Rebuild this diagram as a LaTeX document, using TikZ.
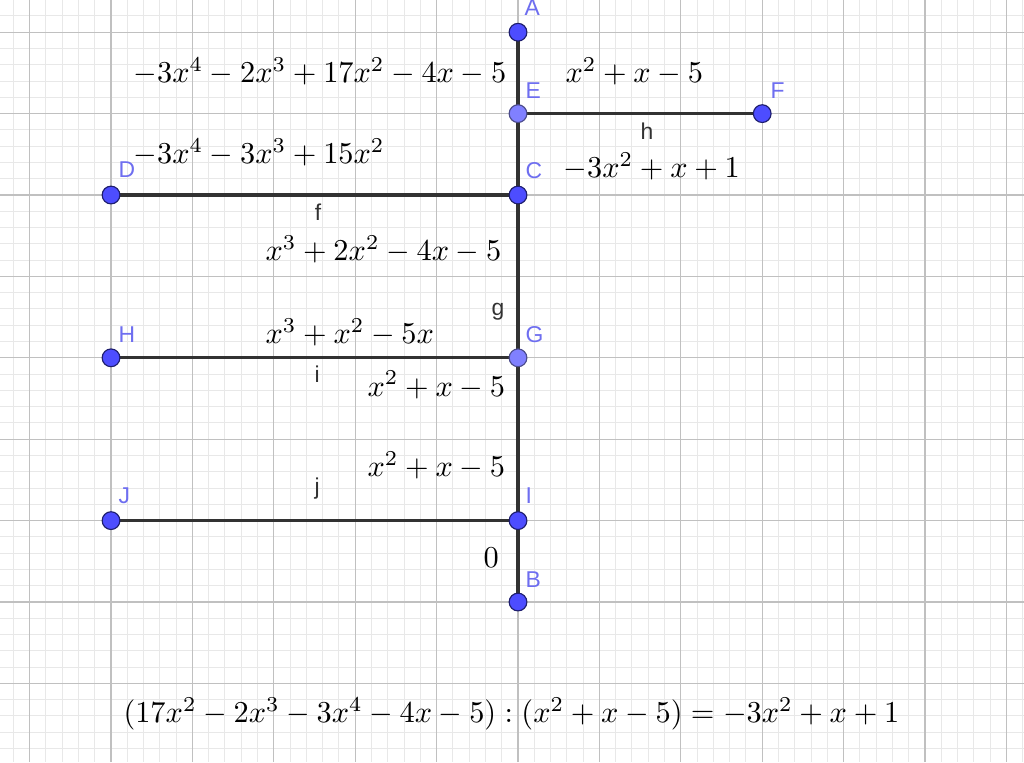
\RequirePackage{fix-cm}
\documentclass[tikz,border=0pt]{standalone}
\usepackage{fontspec}
\newfontfamily\lblfont{Liberation Sans}
\definecolor{ptblue}{RGB}{77,77,255}
\definecolor{ptlight}{RGB}{128,128,255}
\definecolor{ptedge}{RGB}{30,30,110}
\definecolor{lblblue}{RGB}{110,110,240}
\definecolor{majgrid}{RGB}{192,192,192}
\definecolor{mingrid}{RGB}{232,232,232}
\definecolor{segcol}{RGB}{50,50,50}
\tikzset{
  pt/.style={circle,inner sep=0pt,minimum size=6.2pt,fill=ptblue,draw=ptedge,line width=0.4pt},
  ptdep/.style={pt,fill=ptlight,draw=ptedge!80},
  ptlbl/.style={anchor=base west,inner sep=0pt,text=lblblue,font=\lblfont\fontsize{8}{9}\selectfont},
  seglbl/.style={anchor=base,inner sep=0pt,text=segcol,font=\lblfont\fontsize{8}{9}\selectfont},
  seg/.style={draw=segcol,line width=1.1pt},
  formula/.style={anchor=base west,inner sep=0pt,text=black,font=\fontsize{10.6}{12.7}\selectfont}
}
\begin{document}
\begin{tikzpicture}
\useasboundingbox (-1.364,-1.966) rectangle (11.216,7.396);
\fill[white] (-1.364,-1.966) rectangle (11.216,7.396);
% minor grid
\foreach \i in {-7,...,56} {
  \draw[mingrid,line width=0.35pt] ({\i*0.2},-1.966) -- ({\i*0.2},7.396);
}
\foreach \j in {-10,...,37} {
  \draw[mingrid,line width=0.35pt] (-1.364,{\j*0.2}) -- (11.216,{\j*0.2});
}
% major grid
\foreach \i in {-1,...,11} {
  \draw[majgrid,line width=0.4pt] (\i,-1.966) -- (\i,7.396);
}
\foreach \j in {-1,...,7} {
  \draw[majgrid,line width=0.4pt] (-1.364,\j) -- (11.216,\j);
}
% points
\coordinate (pA) at (5,7);
\coordinate (pE) at (5,6);
\coordinate (pF) at (8,6);
\coordinate (pC) at (5,5);
\coordinate (pD) at (0,5);
\coordinate (pG) at (5,3);
\coordinate (pH) at (0,3);
\coordinate (pI) at (5,1);
\coordinate (pJ) at (0,1);
\coordinate (pB) at (5,0);
% segments
\draw[seg] (pA) -- (pB);
\draw[seg] (pE) -- (pF);
\draw[seg] (pD) -- (pC);
\draw[seg] (pH) -- (pG);
\draw[seg] (pJ) -- (pI);
% point markers
\node[pt] (A) at (pA) {};
\node[ptdep] (E) at (pE) {};
\node[pt] (F) at (pF) {};
\node[pt] (C) at (pC) {};
\node[pt] (D) at (pD) {};
\node[ptdep] (G) at (pG) {};
\node[pt] (H) at (pH) {};
\node[pt] (I) at (pI) {};
\node[pt] (J) at (pJ) {};
\node[pt] (B) at (pB) {};
% point labels
\node[ptlbl] (lA) at (5.074,7.211) {A};
\node[ptlbl] (lE) at (5.086,6.192) {E};
\node[ptlbl] (lC) at (5.086,5.209) {C};
\node[ptlbl] (lF) at (8.096,6.192) {F};
\node[ptlbl] (lD) at (0.086,5.221) {D};
\node[ptlbl] (lH) at (0.086,3.194) {H};
\node[ptlbl] (lG) at (5.086,3.194) {G};
\node[ptlbl] (lJ) at (0.086,1.216) {J};
\node[ptlbl] (lI) at (5.086,1.216) {I};
\node[ptlbl] (lB) at (5.086,0.184) {B};
% segment labels
\node[seglbl] (sf) at (2.543,4.693) {f};
\node[seglbl] (sh) at (6.585,5.688) {h};
\node[seglbl] (sg) at (4.754,3.514) {g};
\node[seglbl] (si) at (2.531,2.703) {i};
\node[seglbl] (sj) at (2.531,1.327) {j};
% formulas
\node[formula] (t1) at (0.270,6.388) {$-3x^4-2x^3+17x^2-4x-5$};
\node[formula] (t2) at (5.577,6.388) {$x^2+x-5$};
\node[formula] (t3) at (0.270,5.393) {$-3x^4-3x^3+15x^2$};
\node[formula] (t4) at (5.553,5.221) {$-3x^2+x+1$};
\node[formula] (t5) at (1.892,4.201) {$x^3+2x^2-4x-5$};
\node[formula] (t6) at (1.892,3.170) {$x^3+x^2-5x$};
\node[formula] (t7) at (3.145,2.531) {$x^2+x-5$};
\node[formula] (t8) at (3.145,1.536) {$x^2+x-5$};
\node[formula] (t9) at (4.570,0.430) {$0$};
\node[formula] (t10) at (0.147,-1.486) {$(17x^2-2x^3-3x^4-4x-5):(x^2+x-5)=-3x^2+x+1$};
\end{tikzpicture}
\end{document}
